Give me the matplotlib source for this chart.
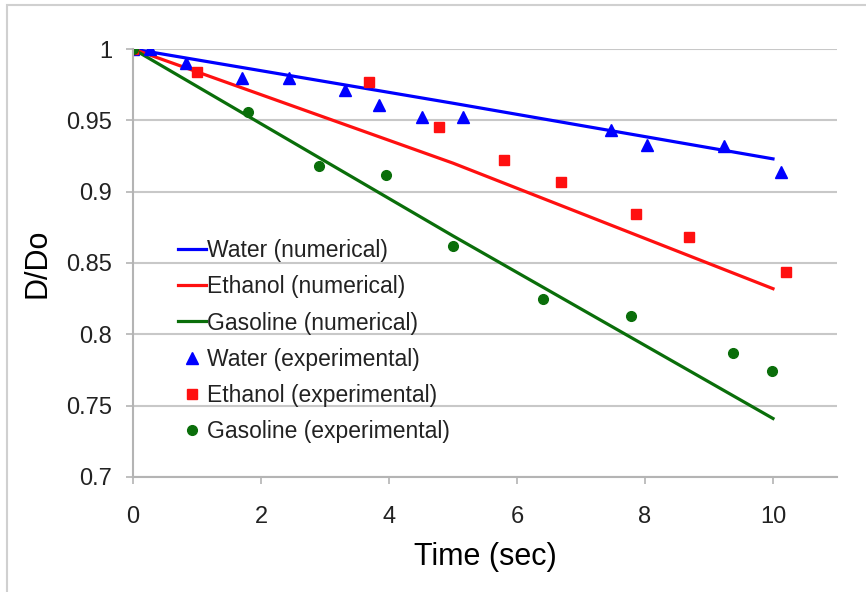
import matplotlib
matplotlib.use("Agg")
import matplotlib.pyplot as plt
from matplotlib.patches import Rectangle

plt.rcParams['font.family'] = ['Liberation Sans', 'DejaVu Sans']

# numerical curves
t_num = [0, 5, 10]
water_num = [1.0, 0.962, 0.923]
ethanol_num = [1.0, 0.920, 0.832]
gasoline_num = [1.0, 0.869, 0.741]

# experimental points
t_water = [0, 0.27, 0.83, 1.70, 2.44, 3.31, 3.85, 4.52, 5.16, 7.47, 8.03, 9.23, 10.13]
d_water = [1.0, 1.0, 0.990, 0.980, 0.980, 0.971, 0.961, 0.952, 0.952, 0.943, 0.933, 0.932, 0.914]
t_eth = [0, 1.0, 3.69, 4.78, 5.80, 6.69, 7.86, 8.69, 10.20]
d_eth = [1.0, 0.984, 0.977, 0.945, 0.922, 0.907, 0.884, 0.868, 0.844]
t_gas = [0, 1.80, 2.91, 3.95, 5.0, 6.40, 7.78, 9.38, 9.98]
d_gas = [1.0, 0.956, 0.918, 0.912, 0.862, 0.825, 0.813, 0.787, 0.774]

blue = '#0000ff'
red = '#ff1010'
green = '#0a6e0a'

fig = plt.figure(figsize=(8.66, 5.92), dpi=100)
ax = fig.add_axes([0.1536, 0.1943, 0.8129, 0.7229])

ax.plot(t_num, water_num, color=blue, lw=2.3, label='Water (numerical)')
ax.plot(t_num, ethanol_num, color=red, lw=2.3, label='Ethanol (numerical)')
ax.plot(t_num, gasoline_num, color=green, lw=2.3, label='Gasoline (numerical)')
ax.plot(t_water, d_water, ls='none', marker='^', ms=8.5, color=blue, label='Water (experimental)')
ax.plot(t_eth, d_eth, ls='none', marker='s', ms=7, color=red, label='Ethanol (experimental)')
ax.plot(t_gas, d_gas, ls='none', marker='o', ms=7, color=green, label='Gasoline (experimental)')

ax.set_xlim(0, 11)
ax.set_ylim(0.7, 1.0)
ax.set_xticks([0, 2, 4, 6, 8, 10])
ax.set_yticks([0.7, 0.75, 0.8, 0.85, 0.9, 0.95, 1.0])
ax.set_yticklabels(['0.7', '0.75', '0.8', '0.85', '0.9', '0.95', '1'])
ax.yaxis.grid(True, color='#c8c8c8', lw=1.5)
ax.set_axisbelow(True)
for s in ['top', 'right']:
    ax.spines[s].set_visible(False)
for s in ['left', 'bottom']:
    ax.spines[s].set_color('#b4b4b4')
    ax.spines[s].set_linewidth(1.5)
ax.tick_params(axis='both', labelsize=17, length=5, width=1.2, colors='#222222')
ax.tick_params(axis='both', color='#b4b4b4')
ax.tick_params(axis='x', pad=16)
ax.tick_params(axis='y', pad=10)
ax.set_xlabel('Time (sec)', fontsize=22, labelpad=10)
ax.set_ylabel('D/Do', fontsize=22, labelpad=10)

ax.legend(loc='upper left', bbox_to_anchor=(0.047, 0.583), frameon=False, fontsize=16.5,
          handlelength=1.25, handletextpad=0.05, labelspacing=0.58, borderpad=0,
          labelcolor='#222222')

# thin outer frame of the picture
fig.patches.append(Rectangle((7 / 866, -0.1), 1.2, 1.1 - 5 / 592, transform=fig.transFigure,
                             fill=False, ec='#d0d0d0', lw=1.5))

fig.savefig('out.png', dpi=100)
